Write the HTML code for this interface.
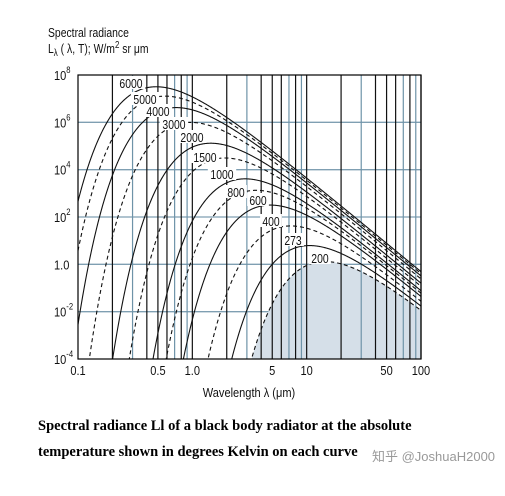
<!DOCTYPE html>
<html><head><meta charset="utf-8"><style>
html,body{margin:0;padding:0;background:#fff;width:505px;height:496px;overflow:hidden}
svg{display:block}
.t{font-family:"Liberation Sans",sans-serif;font-size:13px;fill:#111}
.cap{position:absolute;font-family:"Liberation Serif",serif;font-weight:bold;font-size:14.5px;color:#000;white-space:nowrap}
</style></head><body>
<svg id="chart" width="505" height="496">
<defs><clipPath id="clip"><rect x="78" y="75" width="343" height="284"/></clipPath></defs>
<g id="grid"></g>
<path id="shade" clip-path="url(#clip)" fill="#d5dfe8"></path>
<g id="vgrid"></g>
<g id="curves" clip-path="url(#clip)"></g>
<rect x="78" y="75" width="343" height="284" fill="none" stroke="#000" stroke-width="1.2"/>
<g id="labels"></g>
<g id="ticks"></g>
<text class="t" x="48" y="37" font-size="15" transform="translate(48 0) scale(0.8 1) translate(-48 0)">Spectral radiance</text>
<text class="t" x="48" y="53" font-size="15" transform="translate(48 0) scale(0.8 1) translate(-48 0)">L<tspan font-size="10" dy="3">λ</tspan><tspan dy="-3"> ( λ, T); W/m</tspan><tspan font-size="10" dy="-5">2</tspan><tspan dy="5"> sr μm</tspan></text>
<text class="t" x="249" y="397" font-size="14" text-anchor="middle" transform="translate(249 0) scale(0.85 1) translate(-249 0)">Wavelength λ (μm)</text>
</svg>
<div class="cap" style="left:38px;top:418px">Spectral radiance Ll of a black body radiator at the absolute</div>
<div class="cap" style="left:38px;top:444px">temperature shown in degrees Kelvin on each curve</div>
<div style="position:absolute;left:372px;top:446px;font-family:'Liberation Sans','Noto Sans CJK SC',sans-serif;font-size:13px;color:#999">知乎 @JoshuaH2000</div>
<script>
const temps=[6000,5000,4000,3000,2000,1500,1000,800,600,400,273,200];
const dashed=[false,true,false,true,false,true,false,true,false,true,false,true];
const xTicks=[0.1,0.5,1.0,5,10,50,100];
const xTickText=["0.1","0.5","1.0","5","10","50","100"];
const yTicks=[8,6,4,2,0,-2,-4];
// annotation anchor positions (px) for curve labels
const labelPos=[[131,83],[145,99],[158,111],[174,124],[192,137],[205,157],[222,174],[236,192],[258,200],[271,221],[293,240],[320,258]];
const NS="http://www.w3.org/2000/svg";
const X0=78,X1=421,Y0=75,Y1=359;
const xs=l=>X0+(Math.log10(l)+1)/3*(X1-X0);
const ys=v=>Y1-(Math.log10(v)+4)/12*(Y1-Y0);
const planck=(l,T)=>1.191e8/Math.pow(l,5)/(Math.exp(14388/(l*T))-1);
function mk(tag,attrs,parent){const e=document.createElementNS(NS,tag);for(const k in attrs)e.setAttribute(k,attrs[k]);parent.appendChild(e);return e;}
const grid=document.getElementById('grid');
[6,4,2,0,-2].forEach(p=>{const e=mk('line',{x1:X0,x2:X1,y1:ys(Math.pow(10,p)),y2:ys(Math.pow(10,p)),stroke:'#7f9fb2','stroke-width':1.3},grid);

});
const vg=document.getElementById('vgrid');
[0.1,1,10].forEach(d=>{for(let k=2;k<=10;k++){const v=d*k;if(v>100)continue;if(v===100&&d!==10)continue;
const e=mk('line',{x1:xs(v),x2:xs(v),y1:Y0,y2:Y1,stroke:(k%2===0||k===5)?'#111':'#6e93a8','stroke-width':1.2},vg);

}});
const cg=document.getElementById('curves');
function pathFor(T){let d='';let first=true;for(let j=0;j<=600;j++){const l=Math.pow(10,-1+3*j/600);const v=planck(l,T);if(v<1e-6)continue;const y=Math.max(ys(v),-100);d+=(first?'M':'L')+xs(l).toFixed(2)+' '+Math.min(y,Y1+50).toFixed(2);first=false;}return d;}
temps.forEach((T,k)=>{const e=mk('path',{d:pathFor(T),fill:'none',stroke:'#111','stroke-width':1.1},cg);
if(dashed[k])e.setAttribute('stroke-dasharray','4 3');

});
(function(){const T=temps[temps.length-1];let d='M'+X0+' '+(Y1+60);for(let j=0;j<=600;j++){const l=Math.pow(10,-1+3*j/600);const v=planck(l,T);d+='L'+xs(l).toFixed(2)+' '+Math.min(ys(Math.max(v,1e-30)),Y1+60).toFixed(2);}d+='L'+X1+' '+(Y1+60)+'Z';
document.getElementById('shade').setAttribute('d',d);})();
const lg=document.getElementById('labels');
temps.forEach((T,k)=>{const p=labelPos[k]||[0,0];const x=p[0],y=p[1];
const w=String(T).length*6.6+2;
const r=mk('rect',{x:x-w/2,y:y-7,width:w,height:13,fill:'#fff'},lg);


const t=mk('text',{x:x,y:y+5,'text-anchor':'middle',class:'t','font-size':14,transform:`translate(${x} 0) scale(0.8 1) translate(${-x} 0)`},lg);t.textContent=T;

});
const tg=document.getElementById('ticks');
xTicks.forEach((v,k)=>{const x=xs(v);const t=mk('text',{x:x,y:375,'text-anchor':'middle',class:'t','font-size':14,transform:`translate(${x} 0) scale(0.85 1) translate(${-x} 0)`},tg);t.textContent=xTickText[k];

});
yTicks.forEach(p=>{const y=ys(Math.pow(10,p));const t=mk('text',{x:54,y:y+5,class:'t','font-size':14,transform:'translate(54 0) scale(0.85 1) translate(-54 0)'},tg);
if(p===0){t.textContent='1.0';}else{t.textContent='10';const s=mk('tspan',{'font-size':9,dy:-7},t);s.textContent=String(p);}

});
</script>
</body></html>
